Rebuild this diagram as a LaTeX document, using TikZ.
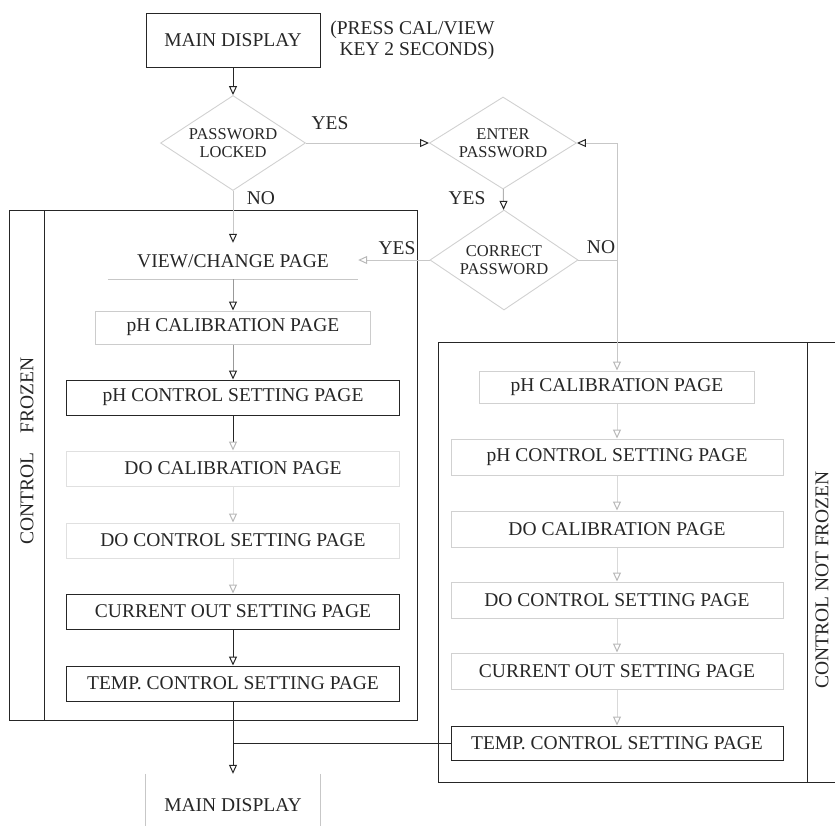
\documentclass[tikz,border=0pt]{standalone}
\usepackage{fontspec}
\setmainfont{Liberation Serif}
\usetikzlibrary{arrows.meta,shapes.geometric}
\begin{document}
\begin{tikzpicture}[x=1pt,y=-1pt,
  txt/.style={font=\fontsize{19.5}{22}\selectfont, text=black!85},
  dtxt/.style={font=\fontsize{16.5}{18.5}\selectfont, text=black!85, align=center},
  blk/.style={draw=black!85, line width=1pt},
  gry/.style={draw=black!22, line width=1pt},
  pagebox/.style={txt, minimum height=35, inner sep=0pt},
  dia/.style={diamond, draw=black!18, line width=0.9pt, dtxt, inner sep=0pt, shape aspect=1.5},
  tipK/.style={-{Triangle[open,length=9pt,width=8pt,color=black!85]}},
  tipG/.style={-{Triangle[open,length=9pt,width=8pt,color=black!28]}},
]
\useasboundingbox (0,0) rectangle (835,825);

% frames
\draw[blk] (9,210) rectangle (417,720);
\draw[blk] (44,210) -- (44,720);
\draw[blk] (835,342) -- (438,342) -- (438,782) -- (835,782);
\draw[blk] (807,342) -- (807,782);
\node[txt, rotate=90] (cf) at (27,451) {CONTROL\hspace{1em}FROZEN};
\node[txt, rotate=90] (cnf) at (822,580) {CONTROL NOT FROZEN};

% top
\node[pagebox, blk, minimum width=174, minimum height=54] (md) at (233,40) {MAIN DISPLAY};
\node[txt, align=right, anchor=east, font=\fontsize{19.5}{21}\selectfont] (press) at (498,40) {(PRESS CAL/VIEW\\KEY 2 SECONDS)};
\node[dia, minimum width=145, minimum height=95] (pl) at (233,143) {PASSWORD\\LOCKED};
\node[dia, minimum width=147, minimum height=92] (ep) at (503,143) {ENTER\\PASSWORD};
\node[dia, minimum width=148, minimum height=100] (cp) at (504,260) {CORRECT\\PASSWORD};

% left column
\node[txt, minimum width=250, minimum height=36, inner sep=0pt] (vc) at (233,261) {VIEW/CHANGE PAGE};
\draw[gry] (vc.south west) -- (vc.south east);
\node[pagebox, gry, draw=black!20, minimum width=275, minimum height=33] (phcalL) at (233,327.5) {pH CALIBRATION PAGE};
\node[pagebox, blk, minimum width=333] (phctlL) at (233,397.5) {pH CONTROL SETTING PAGE};
\node[pagebox, gry, draw=black!12, minimum width=333] (docalL) at (233,468.5) {DO CALIBRATION PAGE};
\node[pagebox, gry, draw=black!12, minimum width=333] (doctlL) at (233,540.5) {DO CONTROL SETTING PAGE};
\node[pagebox, blk, minimum width=333] (curL) at (233,611.5) {CURRENT OUT SETTING PAGE};
\node[pagebox, blk, minimum width=333] (tempL) at (233,683.5) {TEMP. CONTROL SETTING PAGE};
\node[txt, minimum width=174, minimum height=62, inner sep=0pt] (md2) at (233,805) {MAIN DISPLAY};
\draw[gry] (md2.north west) -- (md2.south west);
\draw[gry] (md2.north east) -- (md2.south east);

% right column
\node[pagebox, gry, draw=black!18, minimum width=275, minimum height=32] (phcalR) at (617,387) {pH CALIBRATION PAGE};
\node[pagebox, gry, draw=black!18, minimum width=332, minimum height=36] (phctlR) at (617,457) {pH CONTROL SETTING PAGE};
\node[pagebox, gry, draw=black!18, minimum width=332, minimum height=36] (docalR) at (617,529) {DO CALIBRATION PAGE};
\node[pagebox, gry, draw=black!18, minimum width=332, minimum height=36] (doctlR) at (617,600) {DO CONTROL SETTING PAGE};
\node[pagebox, gry, draw=black!18, minimum width=332, minimum height=36] (curR) at (617,671) {CURRENT OUT SETTING PAGE};
\node[pagebox, blk, minimum width=332, minimum height=34] (tempR) at (617,743) {TEMP. CONTROL SETTING PAGE};

% labels
\node[txt] (yes1) at (330,123) {YES};
\node[txt] (no1) at (261,198) {NO};
\node[txt] (yes2) at (467,198) {YES};
\node[txt] (yes3) at (397,248) {YES};
\node[txt] (no2) at (601,247) {NO};

% connectors
\draw[blk, tipK] (md) -- (pl);
\draw[gry, tipK] (pl) -- (ep);
\draw[gry, draw=black!30, tipK] (ep) -- (cp);
\draw[gry, tipK] (pl) -- (vc);
\draw[gry, tipG] (cp.west) -- (vc.east |- cp.west);
\coordinate (j1) at (phcalR.north |- cp.east);
\draw[gry] (cp.east) -- (j1);
\draw[gry, tipK] (j1) |- (ep.east);
\draw[gry, tipG] (j1) -- (phcalR.north);

\draw[gry, draw=black!40, tipK] (vc) -- (phcalL);
\draw[gry, draw=black!40, tipK] (phcalL) -- (phctlL);
\draw[blk, tipG] (phctlL) -- (docalL);
\draw[gry, draw=black!12, tipG] (docalL) -- (doctlL);
\draw[gry, draw=black!12, tipG] (doctlL) -- (curL);
\draw[blk, tipK] (curL) -- (tempL);
\draw[blk, tipK] (tempL) -- (md2);
\draw[blk] (tempR.west) -- (tempR.west -| tempL.south);

\draw[gry, draw=black!15, tipG] (phcalR) -- (phctlR);
\draw[gry, draw=black!15, tipG] (phctlR) -- (docalR);
\draw[gry, draw=black!15, tipG] (docalR) -- (doctlR);
\draw[gry, draw=black!15, tipG] (doctlR) -- (curR);
\draw[gry, draw=black!15, tipG] (curR) -- (tempR);
\end{tikzpicture}
\end{document}
